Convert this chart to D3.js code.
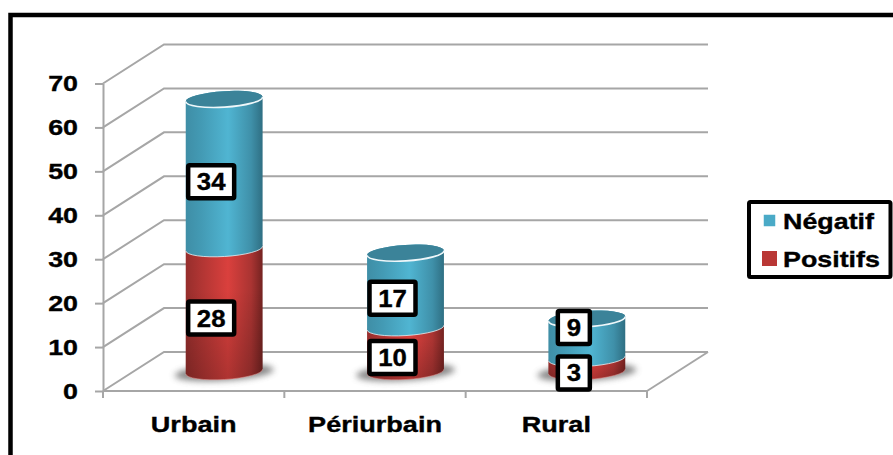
<!DOCTYPE html>
<html><head><meta charset="utf-8">
<script src="https://cdn.jsdelivr.net/npm/d3@7"></script>
<style>
html,body{margin:0;padding:0;background:#fff}
svg{display:block}
text{font-family:"Liberation Sans",Arial,sans-serif;font-weight:bold;fill:#000;stroke:#000;stroke-width:.35px}
</style></head><body>
<svg id="c" width="893" height="455"></svg>
<script>
const categories = ["Urbain","Périurbain","Rural"];
const positifs = [28,10,3];
const negatifs = [34,17,9];
const yTicks = [0,10,20,30,40,50,60,70];
const seriesNames = ["Positifs","Négatif"];

const svg = d3.select("#c");
const depthX = 61, depthY = 39;
const y = d3.scaleLinear().domain([0,70]).range([391,83.5]);
const x = d3.scaleBand().domain(categories).range([103,647]).padding(0);
const gridColor = "#a6a6a6";
const stretch = k => function(){
  this.setAttribute("textLength", this.getComputedTextLength()*k);
  this.setAttribute("lengthAdjust","spacingAndGlyphs");
};

const defs = svg.append("defs");
function hGrad(id, stops){
  const g = defs.append("linearGradient").attr("id",id);
  stops.forEach(s=>g.append("stop").attr("offset",s[0]).attr("stop-color",s[1]));
}
hGrad("blue",[[0,"#3f8ea6"],[0.2,"#439ab4"],[0.55,"#50b5d2"],[0.85,"#3f90a9"],[1,"#2f6f83"]]);
hGrad("red",[[0,"#962e2c"],[0.2,"#b03533"],[0.55,"#da403d"],[0.85,"#aa3432"],[1,"#742321"]]);
const shade = defs.append("linearGradient").attr("id","shade").attr("x1",0).attr("x2",0).attr("y1",0).attr("y2",1);
shade.append("stop").attr("offset",0).attr("stop-color","#000").attr("stop-opacity",0);
shade.append("stop").attr("offset",0.35).attr("stop-color","#000").attr("stop-opacity",0);
shade.append("stop").attr("offset",1).attr("stop-color","#000").attr("stop-opacity",0.2);
defs.append("filter").attr("id","blur").attr("x","-30%").attr("y","-80%").attr("width","160%").attr("height","260%")
  .append("feGaussianBlur").attr("stdDeviation",3);

// frame
svg.append("path").attr("d","M10.5,455V15H893").attr("fill","none").attr("stroke","#000").attr("stroke-width",4.5);

// walls and floor
const grid = svg.append("g").attr("fill","none").attr("stroke",gridColor).attr("stroke-width",2);
grid.selectAll("path.g").data(yTicks).join("path").attr("class","g")
  .attr("d",d=>`M${x.range()[0]},${y(d)}L${x.range()[0]+depthX},${y(d)-depthY}H${x.range()[1]+depthX}`);
grid.append("path").attr("d",`M${x.range()[1]},${y(0)}L${x.range()[1]+depthX},${y(0)-depthY}`);

// axes
const yAxis = svg.append("g").attr("transform",`translate(${x.range()[0]},0)`)
  .call(d3.axisLeft(y).tickValues(yTicks).tickSize(8).tickSizeOuter(0).tickPadding(17));
yAxis.select(".domain").attr("stroke",gridColor).attr("stroke-width",2);
yAxis.selectAll(".tick line").attr("stroke",gridColor).attr("stroke-width",2);
yAxis.selectAll("text").style("font-size","22px").style("font-family",'"Liberation Sans"').style("font-weight","bold").attr("text-anchor","end").each(stretch(1.22));

const xAxis = svg.append("g").attr("transform",`translate(0,${y(0)})`)
  .call(d3.axisBottom(x).tickSize(0).tickPadding(25));
xAxis.select(".domain").attr("stroke",gridColor).attr("stroke-width",2).attr("d",`M${x.range()[0]},0H${x.range()[1]}`);
xAxis.selectAll("text").style("font-size","22px").style("font-family",'"Liberation Sans"').style("font-weight","bold").each(stretch(1.23));
xAxis.selectAll("line.edge").data(d3.range(categories.length+1)).join("line").attr("class","edge")
  .attr("x1",i=>x.range()[0]+i*x.step()).attr("x2",i=>x.range()[0]+i*x.step())
  .attr("y1",0).attr("y2",7).attr("stroke",gridColor).attr("stroke-width",2);

// cylinders
const rx = 38.5, ry = 8, tiltDeg = -3.5, tilt = tiltDeg*Math.PI/180;
const dxE = rx*Math.cos(tilt), dyE = rx*Math.sin(tilt);
const baseY = v => y(v)-depthY/2;
const cxOf = c => x(c)+x.bandwidth()/2+depthX/2;
const rows = categories.map((c,i)=>({category:c,Positifs:positifs[i],"Négatif":negatifs[i]}));
const stacked = d3.stack().keys(seriesNames)(rows);

// shadows
svg.append("g").selectAll("ellipse").data(rows).join("ellipse")
  .attr("cx",d=>cxOf(d.category)).attr("cy",baseY(0)+1)
  .attr("rx",rx+11).attr("ry",ry).attr("fill","#666").attr("opacity",.8)
  .attr("transform",d=>`rotate(${tiltDeg} ${cxOf(d.category)} ${baseY(0)})`)
  .attr("filter","url(#blur)");

function body(cx,y0,y1){
  const a = `A${rx},${ry} ${tiltDeg} 0 0`;
  return `M${cx-dxE},${y0-dyE}${a} ${cx+dxE},${y0+dyE}L${cx+dxE},${y1+dyE}${a} ${cx-dxE},${y1-dyE}Z`;
}
function frontArc(cx,yy){
  return `M${cx-dxE},${yy-dyE}A${rx},${ry} ${tiltDeg} 0 0 ${cx+dxE},${yy+dyE}`;
}
const fills = {Positifs:"red","Négatif":"blue"};
const rims = {Positifs:"#e8a09e","Négatif":"#e4f1f5"};

const bars = svg.append("g");
stacked.forEach(s=>{
  const g = bars.append("g");
  s.forEach(d=>{
    const c = d.data.category, cx = cxOf(c), y0 = baseY(d[0]), y1 = baseY(d[1]);
    g.append("path").attr("d",body(cx,y0,y1)).attr("fill",`url(#${fills[s.key]})`);
    if(s.key==="Positifs") g.append("path").attr("d",body(cx,y0,y1)).attr("fill","url(#shade)");
    g.append("path").attr("d",frontArc(cx,y0)).attr("fill","none").attr("stroke",rims[s.key]).attr("stroke-width",1).attr("opacity",s.key==="Positifs"?.5:.8);
  });
});
// top caps
const topSeries = stacked[stacked.length-1];
topSeries.forEach(d=>{
  const cx = cxOf(d.data.category), yy = baseY(d[1]);
  bars.append("ellipse").attr("cx",cx).attr("cy",yy).attr("rx",rx).attr("ry",ry)
    .attr("fill","#3b8399").attr("transform",`rotate(${tiltDeg} ${cx} ${yy})`);
  bars.append("path").attr("d",frontArc(cx,yy)).attr("fill","none").attr("stroke","#eef7fa").attr("stroke-width",1.6);
});

// value labels
const labelsG = svg.append("g");
const smallTop = 10, raised = -11, lowered = 8, labelDX = -13, boxH = 33;
stacked.forEach(s=>{
  s.forEach(d=>{
    const v = d[1]-d[0], cx = cxOf(d.data.category)+labelDX;
    const isTop = s.key==="Négatif";
    const cy = baseY((d[0]+d[1])/2)+(isTop&&v<smallTop?raised:lowered);
    const w = String(v).length>1?46:32;
    labelsG.append("rect").attr("x",cx-w/2).attr("y",cy-boxH/2).attr("width",w).attr("height",boxH)
      .attr("fill","#fff").attr("stroke","#000").attr("stroke-width",4.5).attr("rx",1.5);
    labelsG.append("text").attr("x",cx).attr("y",cy+8.5).attr("text-anchor","middle")
      .style("font-size","23px").text(v).each(stretch(1.12));
  });
});

// legend
const lg = svg.append("g");
lg.append("rect").attr("x",749).attr("y",202).attr("width",141.5).attr("height",75)
  .attr("fill","#fff").attr("stroke","#000").attr("stroke-width",4).attr("rx",1.5);
const legendY = d3.scalePoint().domain(["Négatif","Positifs"]).range([220.5,258.5]);
legendY.domain().forEach(k=>{
  const s = k==="Négatif"?11.5:15;
  lg.append("rect").attr("x",769.5-s/2).attr("y",legendY(k)-s/2).attr("width",s).attr("height",s)
    .attr("fill",k==="Négatif"?"#4aaac7":"#b93735");
  lg.append("text").attr("x",783).attr("y",legendY(k)+8).style("font-size","22px").text(k).each(stretch(1.22));
});
</script>
</body></html>
